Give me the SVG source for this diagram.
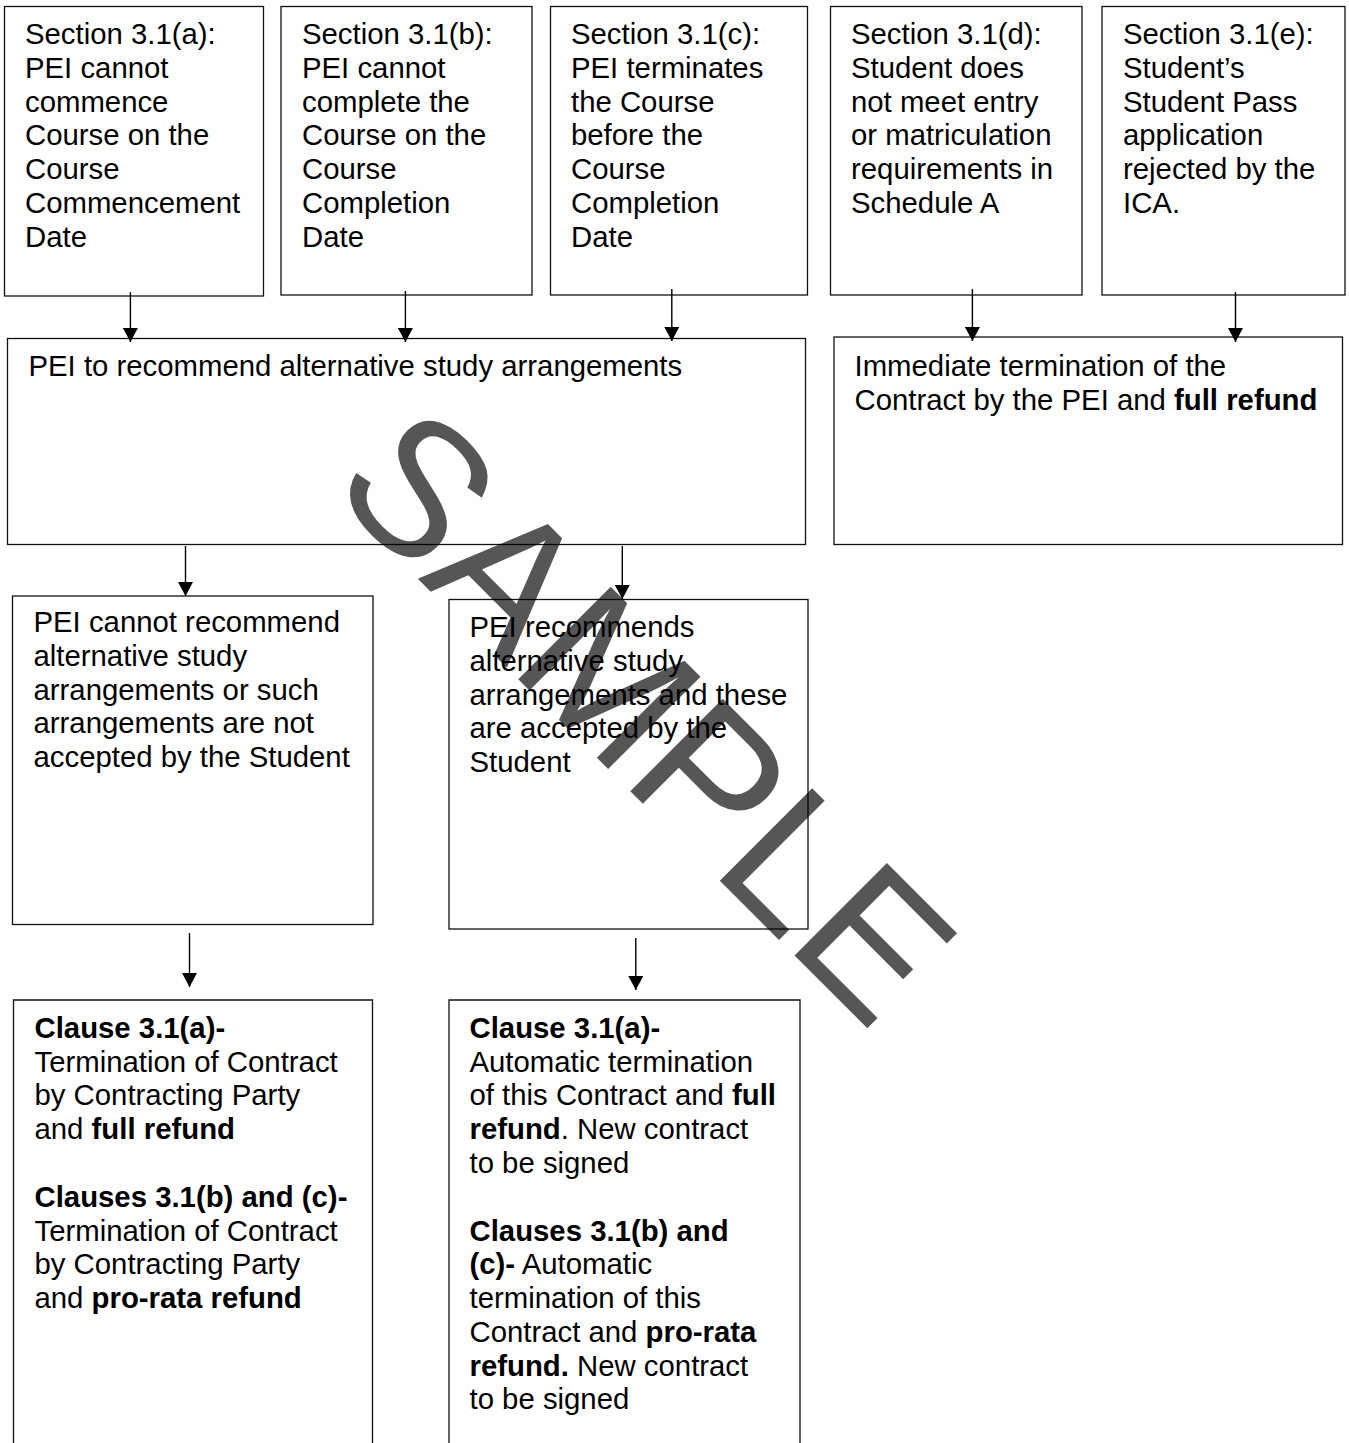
<svg xmlns="http://www.w3.org/2000/svg" width="1349" height="1443" viewBox="0 0 1349 1443">
<style>
.box{fill:#fff;stroke:#111;stroke-width:1.3}
.open{fill:none;stroke:#111;stroke-width:1.3}
.t{font-family:"Liberation Sans",Arial,Helvetica,sans-serif;font-size:29.33px;fill:#000}
.b{font-weight:bold}
.conn{stroke:#000;stroke-width:1.4;fill:none}
.wm{font-family:"Liberation Sans",Arial,Helvetica,sans-serif;font-size:190px;fill:#000;opacity:0.66}
</style>
<defs>
<marker id="arr" markerUnits="userSpaceOnUse" markerWidth="15" markerHeight="15" refX="14" refY="7.5" orient="auto">
<path d="M0,0 L14,7.5 L0,15 z" fill="#000"/>
</marker>
</defs>
<rect width="1349" height="1443" fill="#fff"/>

<g id="node-a">
<rect class="box" x="4.5" y="6.5" width="259" height="289.5"/>
<text class="t" x="25" y="44"><tspan x="25" dy="0">Section 3.1(a):</tspan><tspan x="25" dy="33.8">PEI cannot</tspan><tspan x="25" dy="33.8">commence</tspan><tspan x="25" dy="33.8">Course on the</tspan><tspan x="25" dy="33.8">Course</tspan><tspan x="25" dy="33.8">Commencement</tspan><tspan x="25" dy="33.8">Date</tspan></text>
</g>
<g id="node-b">
<rect class="box" x="281" y="6.5" width="251" height="288.5"/>
<text class="t" x="302" y="44"><tspan x="302" dy="0">Section 3.1(b):</tspan><tspan x="302" dy="33.8">PEI cannot</tspan><tspan x="302" dy="33.8">complete the</tspan><tspan x="302" dy="33.8">Course on the</tspan><tspan x="302" dy="33.8">Course</tspan><tspan x="302" dy="33.8">Completion</tspan><tspan x="302" dy="33.8">Date</tspan></text>
</g>
<g id="node-c">
<rect class="box" x="550.5" y="6.5" width="257" height="288.5"/>
<text class="t" x="571" y="44"><tspan x="571" dy="0">Section 3.1(c):</tspan><tspan x="571" dy="33.8">PEI terminates</tspan><tspan x="571" dy="33.8">the Course</tspan><tspan x="571" dy="33.8">before the</tspan><tspan x="571" dy="33.8">Course</tspan><tspan x="571" dy="33.8">Completion</tspan><tspan x="571" dy="33.8">Date</tspan></text>
</g>
<g id="node-d">
<rect class="box" x="830.5" y="6.5" width="251.5" height="288.5"/>
<text class="t" x="851" y="44"><tspan x="851" dy="0">Section 3.1(d):</tspan><tspan x="851" dy="33.8">Student does</tspan><tspan x="851" dy="33.8">not meet entry</tspan><tspan x="851" dy="33.8">or matriculation</tspan><tspan x="851" dy="33.8">requirements in</tspan><tspan x="851" dy="33.8">Schedule A</tspan></text>
</g>
<g id="node-e">
<rect class="box" x="1102" y="6.5" width="243" height="288.5"/>
<text class="t" x="1123" y="44"><tspan x="1123" dy="0">Section 3.1(e):</tspan><tspan x="1123" dy="33.8">Student’s</tspan><tspan x="1123" dy="33.8">Student Pass</tspan><tspan x="1123" dy="33.8">application</tspan><tspan x="1123" dy="33.8">rejected by the</tspan><tspan x="1123" dy="33.8">ICA.</tspan></text>
</g>

<g id="node-recommend">
<rect class="box" x="7.5" y="338.5" width="798" height="206"/>
<text class="t" x="28.5" y="376">PEI to recommend alternative study arrangements</text>
</g>
<g id="node-immediate">
<rect class="box" x="834" y="337" width="508.5" height="207.5"/>
<text class="t" x="854.5" y="376"><tspan x="854.5" dy="0">Immediate termination of the</tspan><tspan x="854.5" dy="33.8">Contract by the PEI and <tspan class="b">full refund</tspan></tspan></text>
</g>

<g id="node-cannot">
<rect class="box" x="12.5" y="596" width="360.5" height="328.5"/>
<text class="t" x="33.5" y="631.7"><tspan x="33.5" dy="0">PEI cannot recommend</tspan><tspan x="33.5" dy="33.9">alternative study</tspan><tspan x="33.5" dy="33.9">arrangements or such</tspan><tspan x="33.5" dy="33.9">arrangements are not</tspan><tspan x="33.5" dy="33.9">accepted by the Student</tspan></text>
</g>
<g id="node-recommends">
<rect class="box" x="449" y="599.5" width="359" height="329.5"/>
<text class="t" x="469.5" y="636.7"><tspan x="469.5" dy="0">PEI recommends</tspan><tspan x="469.5" dy="33.9">alternative study</tspan><tspan x="469.5" dy="33.9">arrangements and these</tspan><tspan x="469.5" dy="33.9">are accepted by the</tspan><tspan x="469.5" dy="33.9">Student</tspan></text>
</g>

<g id="node-clause-left">
<path class="open" d="M13.5,1450 V1000 H372.5 V1450"/>
<text class="t" x="34.5" y="1037.7"><tspan x="34.5" dy="0" class="b">Clause 3.1(a)-</tspan><tspan x="34.5" dy="33.8">Termination of Contract</tspan><tspan x="34.5" dy="33.8">by Contracting Party</tspan><tspan x="34.5" dy="33.8">and <tspan class="b">full refund</tspan></tspan><tspan x="34.5" dy="67.6" class="b">Clauses 3.1(b) and (c)-</tspan><tspan x="34.5" dy="33.8">Termination of Contract</tspan><tspan x="34.5" dy="33.8">by Contracting Party</tspan><tspan x="34.5" dy="33.8">and <tspan class="b">pro-rata refund</tspan></tspan></text>
</g>
<g id="node-clause-right">
<path class="open" d="M449,1450 V1000 H800 V1450"/>
<text class="t" x="469.5" y="1037.7"><tspan x="469.5" dy="0" class="b">Clause 3.1(a)-</tspan><tspan x="469.5" dy="33.8">Automatic termination</tspan><tspan x="469.5" dy="33.8">of this Contract and <tspan class="b">full</tspan></tspan><tspan x="469.5" dy="33.8"><tspan class="b">refund</tspan>. New contract</tspan><tspan x="469.5" dy="33.8">to be signed</tspan><tspan x="469.5" dy="67.6" class="b">Clauses 3.1(b) and</tspan><tspan x="469.5" dy="33.8"><tspan class="b">(c)-</tspan> Automatic</tspan><tspan x="469.5" dy="33.8">termination of this</tspan><tspan x="469.5" dy="33.8">Contract and <tspan class="b">pro-rata</tspan></tspan><tspan x="469.5" dy="33.8"><tspan class="b">refund.</tspan> New contract</tspan><tspan x="469.5" dy="33.8">to be signed</tspan></text>
</g>

<g id="connectors">
<line class="conn" x1="130.4" y1="292" x2="130.4" y2="342" marker-end="url(#arr)"/>
<line class="conn" x1="405.4" y1="291" x2="405.4" y2="342" marker-end="url(#arr)"/>
<line class="conn" x1="671.8" y1="289" x2="671.8" y2="341" marker-end="url(#arr)"/>
<line class="conn" x1="972.4" y1="289" x2="972.4" y2="341" marker-end="url(#arr)"/>
<line class="conn" x1="1235.5" y1="292" x2="1235.5" y2="342" marker-end="url(#arr)"/>
<line class="conn" x1="185.5" y1="546" x2="185.5" y2="596" marker-end="url(#arr)"/>
<line class="conn" x1="622.3" y1="546" x2="622.3" y2="599" marker-end="url(#arr)"/>
<line class="conn" x1="189.5" y1="933" x2="189.5" y2="987" marker-end="url(#arr)"/>
<line class="conn" x1="635.8" y1="938" x2="635.8" y2="990" marker-end="url(#arr)"/>
</g>

<text class="wm" transform="translate(328,489) rotate(45)">SAMPLE</text>
</svg>
